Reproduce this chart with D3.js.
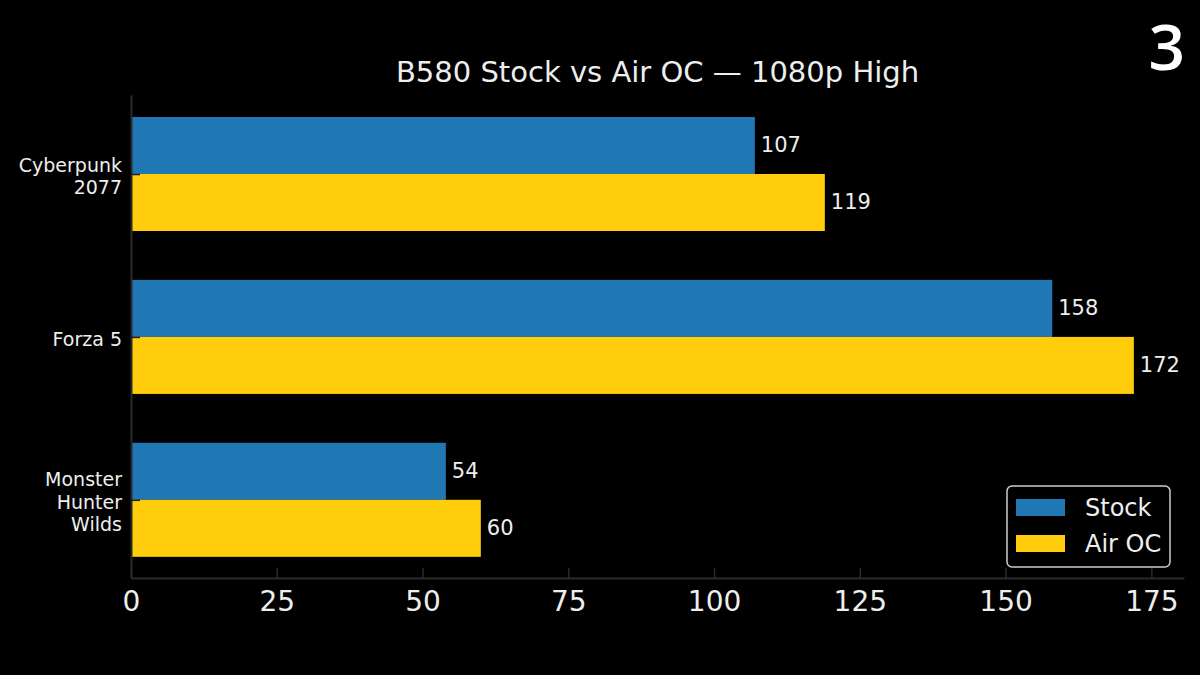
<!DOCTYPE html>
<html>
<head>
<meta charset="utf-8">
<script src="https://cdn.jsdelivr.net/npm/d3@7"></script>
<style>
  html, body { margin: 0; padding: 0; background: #000; }
  svg { display: block; font-family: 'DejaVu Sans', sans-serif; }
</style>
</head>
<body>
<svg id="chart" width="1200" height="675"></svg>
<script>
var games = [['Cyberpunk', '2077'], ['Forza 5'], ['Monster', 'Hunter', 'Wilds']];
var stock = [107, 158, 54];
var airOc = [119, 172, 60];
var seriesNames = ['Stock', 'Air OC'];
var seriesColors = ['#1f77b4', '#ffcd0b'];
var xTicks = [0, 25, 50, 75, 100, 125, 150, 175];

function draw(svg) {
  var m = {left: 131, right: 1184, top: 95, bottom: 578};
  var barH = 0.35;

  var x = d3.scaleLinear()
    .domain([0, d3.max(airOc.concat(stock)) * 1.05])
    .range([m.left, m.right]);

  var y = d3.scaleLinear()
    .domain([-0.485, games.length - 1 + 0.48])
    .range([m.top, m.bottom]);

  svg.append('rect')
    .attr('width', 1200)
    .attr('height', 675)
    .attr('fill', '#000');

  [stock, airOc].forEach(function(vals, s) {
    svg.append('g')
      .selectAll('rect')
      .data(vals)
      .enter()
      .append('rect')
        .attr('x', x(0))
        .attr('y', function(d, i) { return s === 0 ? y(i - barH) : y(i); })
        .attr('width', function(d) { return x(d) - x(0); })
        .attr('height', y(barH) - y(0))
        .attr('fill', seriesColors[s]);

    svg.append('g')
      .selectAll('text')
      .data(vals)
      .enter()
      .append('text')
        .attr('x', function(d) { return x(d) + 6; })
        .attr('y', function(d, i) { return s === 0 ? y(i - barH / 2) : y(i + barH / 2); })
        .attr('dy', '0.33em')
        .attr('fill', '#eee')
        .attr('font-size', 21)
        .text(function(d) { return d; });
  });

  // x axis
  var xAxis = svg.append('g')
    .attr('transform', 'translate(0,' + m.bottom + ')')
    .call(d3.axisBottom(x).tickValues(xTicks).tickSizeInner(-10).tickSizeOuter(0).tickPadding(8));
  xAxis.select('.domain').attr('stroke', '#2a2a2a').attr('stroke-width', 2);
  xAxis.selectAll('.tick line').attr('stroke', '#2a2a2a').attr('stroke-width', 1.5);
  xAxis.selectAll('.tick text')
    .attr('fill', '#eee')
    .attr('font-size', 28)
    .attr('font-family', 'DejaVu Sans')
    .attr('dy', '0.9em');

  // y axis
  var yAxis = svg.append('g')
    .attr('transform', 'translate(' + m.left + ',0)')
    .call(d3.axisLeft(y).tickValues(d3.range(games.length)).tickSizeInner(-9).tickSizeOuter(0).tickFormat(''));
  yAxis.select('.domain').attr('stroke', '#2a2a2a').attr('stroke-width', 2);
  yAxis.selectAll('.tick line').attr('stroke', '#222').attr('stroke-width', 1.5);

  svg.append('g')
    .selectAll('text')
    .data(games)
    .enter()
    .append('text')
      .attr('text-anchor', 'end')
      .attr('fill', '#eee')
      .attr('font-size', 19)
      .attr('x', m.left - 9)
      .attr('y', function(d, i) { return y(i) - (d.length - 1) * 11.25 + 2; })
      .each(function(d) {
        d3.select(this).selectAll('tspan')
          .data(d)
          .enter()
          .append('tspan')
            .attr('x', m.left - 9)
            .attr('dy', function(t, j) { return j === 0 ? '0.36em' : 22.5; })
            .text(function(t) { return t; });
      });

  // title
  svg.append('text')
    .attr('x', (m.left + m.right) / 2)
    .attr('y', 82)
    .attr('text-anchor', 'middle')
    .attr('fill', '#eee')
    .attr('font-size', 29)
    .text('B580 Stock vs Air OC — 1080p High');

  // corner number
  svg.append('text')
    .attr('x', 1185)
    .attr('y', 70)
    .attr('text-anchor', 'end')
    .attr('fill', '#fff')
    .attr('font-family', 'Open Sans, DejaVu Sans, sans-serif')
    .attr('font-weight', 600)
    .attr('font-size', 64)
    .text('3');

  // legend
  var legend = svg.append('g').attr('transform', 'translate(1007,486)');
  legend.append('rect')
    .attr('width', 163)
    .attr('height', 81)
    .attr('rx', 5)
    .attr('fill', '#000')
    .attr('stroke', '#ccc')
    .attr('stroke-width', 1.5);

  var item = legend.selectAll('.item')
    .data(seriesNames)
    .enter()
    .append('g')
      .attr('class', 'item')
      .attr('transform', function(d, i) { return 'translate(9,' + (13 + i * 36) + ')'; });
  item.append('rect')
    .attr('width', 49)
    .attr('height', 17)
    .attr('fill', function(d, i) { return seriesColors[i]; });
  item.append('text')
    .attr('x', 69)
    .attr('y', 8.5)
    .attr('dy', '0.36em')
    .attr('fill', '#eee')
    .attr('font-size', 24)
    .text(function(d) { return d; });
}

draw(d3.select('#chart'));
</script>
</body>
</html>
